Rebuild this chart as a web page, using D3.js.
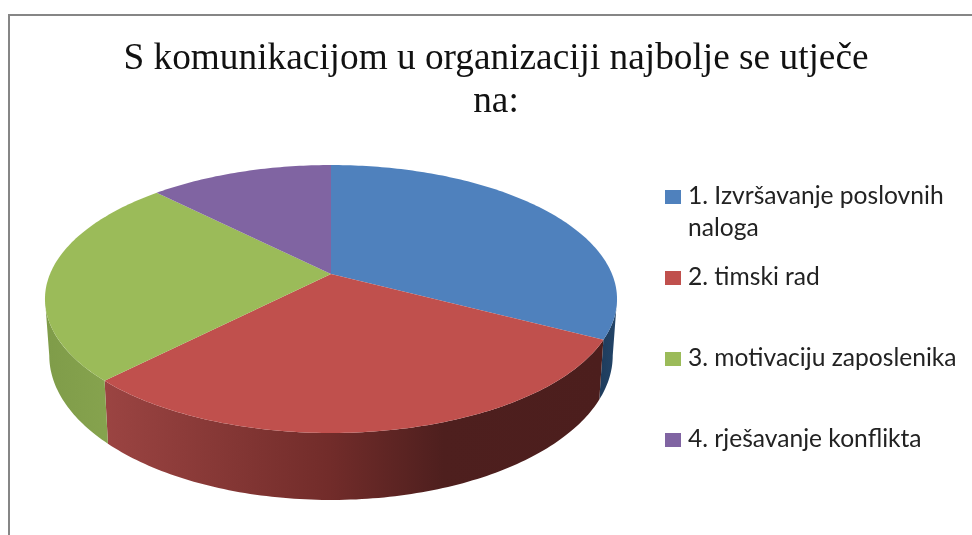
<!DOCTYPE html>
<html>
<head>
<meta charset="utf-8">
<script src="https://cdn.jsdelivr.net/npm/d3@7"></script>
<style>
  html, body { margin: 0; padding: 0; background: #fff; }
  svg { display: block; filter: blur(0.45px); }
</style>
</head>
<body>
<svg id="chart"></svg>
<script>
var titleLines = ['S komunikacijom u organizaciji najbolje se utječe', 'na:'];
var categories = ['1. Izvršavanje poslovnih', '2. timski rad', '3. motivaciju zaposlenika', '4. rješavanje konflikta'];
var extraLines = ['naloga', '', '', ''];
var values = [32.7, 29.6, 25.3, 12.4];
var colors = ['#4f81bd', '#c0504d', '#9bbb59', '#8064a2'];

var width = 972, height = 535;

var svg = d3.select('#chart').attr('width', width).attr('height', height);

// frame is only visible on the top and left, the image is cropped elsewhere
svg.append('path')
  .attr('d', 'M9,535V15H972')
  .attr('fill', 'none')
  .attr('stroke', '#868686')
  .attr('stroke-width', 2);

svg.selectAll('text.title')
  .data(titleLines)
  .enter()
  .append('text')
  .attr('class', 'title')
  .attr('x', 496)
  .attr('y', (d, i) => 69 + i * 43)
  .attr('text-anchor', 'middle')
  .attr('font-family', 'Liberation Serif')
  .attr('font-size', 37.3)
  .attr('fill', '#111')
  .text(d => d);

// perspective of the tilted disc, apex of the pie at (331, 274)
var cx = 331, cy = 274, k = 0.1866, scaleY = 129.3, scaleX = 281;

function topPoint(a) {
  var u = -Math.cos(a), v = Math.sin(a), w = 1 - k * u;
  return [cx + scaleX * v / w, cy + scaleY * u / w];
}

function bottomPoint(a) {
  var u = -Math.cos(a), p = topPoint(a);
  return [cx + (p[0] - cx) * 0.985, p[1] + 54.5 / (1 - k * u)];
}

function arcPoints(fn, a0, a1) {
  var n = Math.max(2, Math.ceil((a1 - a0) * 60));
  return d3.range(n + 1).map(i => fn(a0 + (a1 - a0) * i / n));
}

var line = d3.line().curve(d3.curveLinear);
var pie = d3.pie().sort(null).value(d => d);
var slices = pie(values);
var color = d3.scaleOrdinal().domain(categories).range(colors);

var defs = svg.append('defs');

function wallGradient(id, x0, x1, stops) {
  var g = defs.append('linearGradient')
    .attr('id', id)
    .attr('gradientUnits', 'userSpaceOnUse')
    .attr('x1', x0).attr('x2', x1)
    .attr('y1', 0).attr('y2', 0);
  stops.forEach(s => g.append('stop').attr('offset', s[0]).attr('stop-color', s[1]));
}

wallGradient('wall0', 590, 620, [[0, '#1c3754'], [1, '#24466b']]);
wallGradient('wall1', 105, 603, [[0, '#9b4442'], [0.45, '#722c2a'], [0.68, '#4e1f1e'], [1, '#4c1e1d']]);
wallGradient('wall2', 45, 110, [[0, '#7f9c49'], [1, '#86a34e']]);

// side walls run between the two points where the disc is widest
var edge = Math.acos(k);
var walls = svg.append('g');
slices.forEach((s, i) => {
  var a0 = Math.max(s.startAngle, Math.PI - edge);
  var a1 = Math.min(s.endAngle, Math.PI + edge);
  if (a1 <= a0) return;
  var pts = arcPoints(topPoint, a0, a1).concat(arcPoints(bottomPoint, a0, a1).reverse());
  walls.append('path')
    .attr('d', line(pts) + 'Z')
    .attr('fill', 'url(#wall' + i + ')');
});

// top faces
svg.append('g')
  .selectAll('path')
  .data(slices)
  .enter()
  .append('path')
  .attr('d', s => line([[cx, cy]].concat(arcPoints(topPoint, s.startAngle, s.endAngle))) + 'Z')
  .attr('fill', (s, i) => color(categories[i]));

// legend
var legendY = d3.scalePoint().domain(categories).range([197, 440]);
var legend = svg.append('g')
  .selectAll('g')
  .data(categories)
  .enter()
  .append('g')
  .attr('transform', d => 'translate(665,' + legendY(d) + ')');

legend.append('rect')
  .attr('y', -7)
  .attr('width', 16)
  .attr('height', 14)
  .attr('fill', d => color(d));

var legendText = legend.append('text')
  .attr('font-family', 'Lato')
  .attr('font-size', 24.6)
  .attr('fill', '#222');

legendText.append('tspan')
  .attr('x', 23)
  .attr('y', 7)
  .text(d => d);

legendText.append('tspan')
  .attr('x', 23)
  .attr('y', 39)
  .text((d, i) => extraLines[i]);
</script>
</body>
</html>
